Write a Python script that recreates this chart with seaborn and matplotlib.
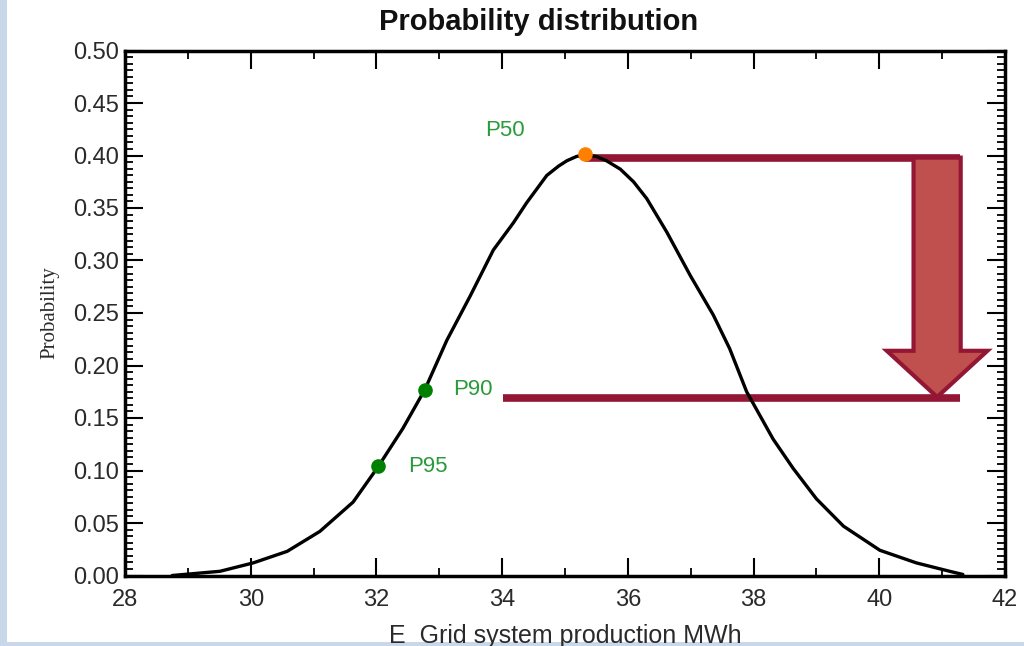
import numpy as np
import pandas as pd
import matplotlib
matplotlib.use("Agg")
import matplotlib.pyplot as plt
from matplotlib.patches import Polygon, Rectangle
from matplotlib.ticker import MultipleLocator, FormatStrFormatter
import seaborn as sns

# Curve
energy = [28.75, 29.51, 30.04, 30.58, 31.10, 31.63, 32.02, 32.42, 32.77, 33.12,
          33.49, 33.86, 34.18, 34.39, 34.71, 34.90, 35.03, 35.18, 35.32, 35.50,
          35.66, 35.88, 36.09, 36.30, 36.62, 36.99, 37.36, 37.62, 37.89, 38.31,
          38.63, 39.00, 39.43, 40.01, 40.59, 41.12, 41.33]
probability = [0.000, 0.004, 0.012, 0.023, 0.042, 0.070, 0.103, 0.140, 0.177, 0.224,
               0.266, 0.310, 0.336, 0.355, 0.381, 0.390, 0.395, 0.399, 0.401, 0.399,
               0.395, 0.387, 0.375, 0.359, 0.327, 0.286, 0.248, 0.216, 0.175, 0.130,
               0.102, 0.073, 0.047, 0.024, 0.012, 0.004, 0.001]

# Percentile points
p_names = ["P50", "P90", "P95"]
p_energy = [35.32, 32.77, 32.02]
p_prob = [0.401, 0.177, 0.104]
p_colors = ["#ff8000", "#008000", "#008000"]

df = pd.DataFrame({"energy": energy, "probability": probability})

sns.set_theme(style="white")
plt.rcParams["font.family"] = ["Liberation Sans", "DejaVu Sans"]

fig = plt.figure(figsize=(10.24, 6.46), dpi=100)
fig.patch.set_facecolor("#c8d8ea")
# white panel over the bluish background
fig.patches.append(Rectangle((7 / 1024, 4 / 646), 1, 1, transform=fig.transFigure,
                             facecolor="white", edgecolor="none", zorder=-1))

ax = fig.add_axes([125 / 1024, 70.5 / 646, 880 / 1024, 525 / 646])
ax.set_facecolor("white")

sns.lineplot(data=df, x="energy", y="probability", ax=ax, color="black",
             linewidth=2.4, zorder=3)

# red reference lines and block arrow
line_right = 41.28
ax.plot([p_energy[0], line_right], [0.398, 0.398], color="#931735", lw=5.5,
        solid_capstyle="butt", zorder=2)
ax.plot([34.01, line_right], [0.169, 0.169], color="#931735", lw=5.5,
        solid_capstyle="butt", zorder=2)

cx, shaft_w, head_w = 40.92, 0.75, 1.60
top, head_y, tip = 0.398, 0.214, 0.170
arrow = Polygon([(cx - shaft_w / 2, top), (cx + shaft_w / 2, top),
                 (cx + shaft_w / 2, head_y), (cx + head_w / 2, head_y),
                 (cx, tip), (cx - head_w / 2, head_y), (cx - shaft_w / 2, head_y)],
                closed=True, facecolor="#c0504d", edgecolor="#931735", lw=3, zorder=4)
ax.add_patch(arrow)

for name, xe, yp, c in zip(p_names, p_energy, p_prob, p_colors):
    ax.plot(xe, yp, "o", color=c, markersize=9.5, zorder=5)

ax.text(34.05, 0.424, "P50", color="#2a9a3a", fontsize=16, ha="center", va="center")
ax.text(33.22, 0.177, "P90", color="#2a9a3a", fontsize=16, ha="left", va="center")
ax.text(32.50, 0.104, "P95", color="#2a9a3a", fontsize=16, ha="left", va="center")

ax.set_xlim(28, 42)
ax.set_ylim(0, 0.5)
ax.xaxis.set_major_locator(MultipleLocator(2))
ax.xaxis.set_minor_locator(MultipleLocator(1))
ax.yaxis.set_major_locator(MultipleLocator(0.05))
ax.yaxis.set_minor_locator(MultipleLocator(0.05 / 8))
ax.yaxis.set_major_formatter(FormatStrFormatter("%.2f"))
ax.tick_params(which="both", direction="in", top=True, right=True,
               bottom=True, left=True, color="black", labelsize=17,
               labelcolor="#2a2a2a")
ax.tick_params(which="major", length=13, width=1.5)
ax.tick_params(which="minor", length=6, width=1.3)
ax.tick_params(axis="x", which="major", pad=10)
ax.tick_params(axis="y", which="major", pad=4)
for s in ax.spines.values():
    s.set_color("black")
    s.set_linewidth(2.5)

ax.set_ylabel("Probability", family=["Liberation Serif", "DejaVu Serif"],
              fontsize=15, labelpad=10, color="#2a2a2a")
ax.set_xlabel("E_Grid system production MWh", fontsize=18, color="#2a2a2a",
              labelpad=9)
ax.set_title("Probability distribution", fontsize=21, fontweight="bold", pad=15,
             color="#111111", x=0.47)

fig.savefig("out.png", dpi=100, facecolor=fig.get_facecolor())
